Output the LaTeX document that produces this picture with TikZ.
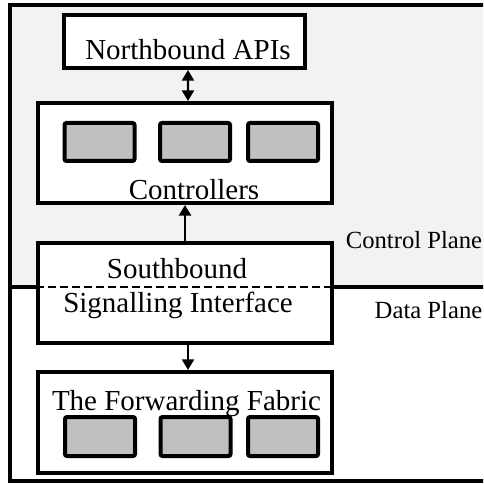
\documentclass[tikz,border=0pt]{standalone}
\usepackage{fontspec}
\setmainfont{Liberation Serif}
\usepackage{xcolor}
\usetikzlibrary{arrows.meta}
\definecolor{planegray}{RGB}{242,242,242}
\definecolor{unitgray}{RGB}{192,192,192}
\tikzset{
    block/.style={
        rectangle,
        draw=black,
        line width=3pt,
        fill=white,
        minimum width=220.5pt,
        minimum height=75pt,
        inner sep=0pt
    },
    unit/.style={
        rectangle,
        rounded corners=1.5pt,
        draw=black,
        line width=3pt,
        fill=unitgray,
        minimum width=52.5pt,
        minimum height=28.5pt,
        inner sep=0pt
    },
    lbl/.style={
        font=\fontsize{21.75pt}{26pt}\selectfont,
        anchor=base,
        inner sep=0pt
    },
    planelbl/.style={
        font=\fontsize{18.5pt}{22pt}\selectfont,
        anchor=base,
        inner sep=0pt
    },
    link/.style={-{Triangle[length=8pt, width=9pt]}, line width=1.8pt},
    biglink/.style={{Triangle[length=8pt, width=9pt]}-{Triangle[length=8pt, width=9pt]}, line width=1.8pt}
}

\begin{document}
\begin{tikzpicture}[x=0.75pt, y=-0.75pt]
\useasboundingbox (0,0) rectangle (483,484);
\clip (0,0) rectangle (483,484);

% control plane area and frame
\fill[planegray] (10,5) rectangle (490,287);
\draw[line width=3pt] (490,5) -- (10,5) -- (10,481) -- (490,481);
\coordinate (divL) at (10,287);
\coordinate (divR) at (490,287);

\node[block, minimum width=180.75pt, minimum height=39.75pt] (north) at (184.5,41.5) {};
\node[block] (ctrl) at (185,153) {};
\node[block] (south) at (185,293) {};
\node[block, minimum height=75.75pt] (fwd) at (185,422.5) {};

\node[unit] (c1) at (99.5,142) {};
\node[unit] (c2) at (195,142) {};
\node[unit] (c3) at (283,142) {};
\node[unit, minimum height=29.25pt] (f1) at (100,436.5) {};
\node[unit, minimum height=29.25pt] (f2) at (195.5,436.5) {};
\node[unit, minimum height=29.25pt] (f3) at (283,436.5) {};

\node[lbl] (northtxt) at (188,60) {Northbound APIs};
\node[lbl] (ctrltxt) at (194,200) {Controllers};
\node[lbl] (southtxt) at (177,278) {Southbound};
\node[lbl] (sigtxt) at (178,312) {Signalling Interface};
\node[lbl] (fwdtxt) at (186.5,410) {The Forwarding Fabric};

\node[planelbl] (ctrlplane) at (414,248) {Control Plane};
\node[planelbl] (dataplane) at (428.5,318) {Data Plane};

% plane divider
\draw[line width=3pt] (divL) -- (divL -| south.west);
\draw[line width=2pt, dash pattern=on 6pt off 3pt] (divL -| south.west) -- (divL -| south.east);
\draw[line width=3pt] (divL -| south.east) -- (divR);

\draw[biglink] ([xshift=2.6pt]north.south) -- ([xshift=2.25pt]ctrl.north);
\draw[link] (south.north) -- (ctrl.south);
\draw[link] ([xshift=2.25pt]south.south) -- ([xshift=2.25pt]fwd.north);

\end{tikzpicture}
\end{document}
